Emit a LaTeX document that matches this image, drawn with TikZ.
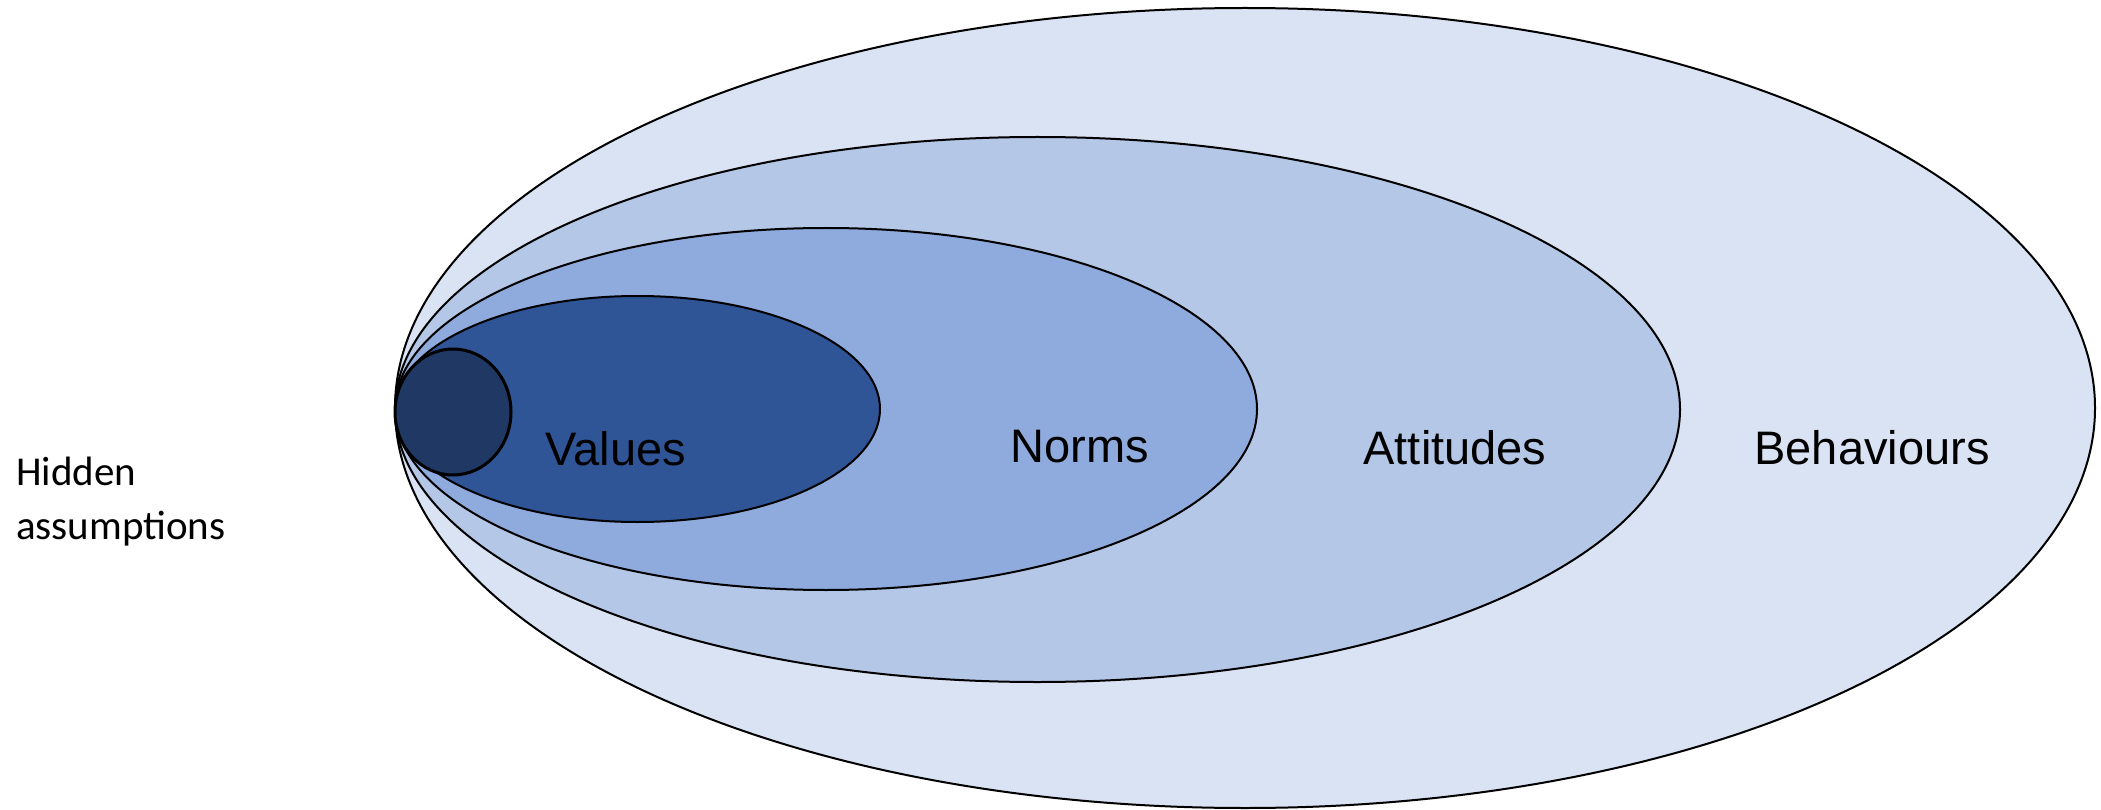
\documentclass[tikz,border=0pt]{standalone}
\usepackage{fontspec}
\setmainfont{Liberation Sans}
\newfontfamily\captionfont{Carlito}
\usetikzlibrary{shapes.geometric}
\definecolor{ringBehav}{HTML}{DAE3F3}
\definecolor{ringAtt}{HTML}{B4C7E7}
\definecolor{ringNorm}{HTML}{8FAADC}
\definecolor{ringVal}{HTML}{2F5597}
\definecolor{coreHidden}{HTML}{1F3864}
\begin{document}
\begin{tikzpicture}[x=1pt,y=-1pt,
  layer/.style={ellipse, draw=black, line width=2pt, inner sep=0pt, outer sep=0pt},
  lbl/.style={font=\fontsize{47}{56}\selectfont, inner sep=0pt, anchor=base}]
\useasboundingbox (0,0) rectangle (2101,810);
% nested layers, all touching at the left
\node[layer, fill=ringBehav, minimum width=1700pt, minimum height=800pt] (behaviours) at (1245,408) {};
\node[layer, fill=ringAtt, minimum width=1285pt, minimum height=545pt] (attitudes) at (1037.5,409.5) {};
\node[layer, fill=ringNorm, minimum width=862pt, minimum height=362pt] (norms) at (826,409) {};
\node[layer, fill=ringVal, minimum width=485pt, minimum height=226pt] (values) at (637.5,409) {};
\node[layer, fill=coreHidden, line width=3pt, minimum width=116pt, minimum height=126pt] (hidden) at (453,412) {};
% layer names
\node[lbl] (valuesLbl) at (616,465) {Values};
\node[lbl] (normsLbl) at (1080,462) {Norms};
\node[lbl] (attitudesLbl) at (1455,464) {Attitudes};
\node[lbl] (behavioursLbl) at (1872,464) {Behaviours};
\node[font=\captionfont\fontsize{41}{54}\selectfont, align=left, anchor=base west, inner sep=0pt] (hiddenLbl) at (16,539) {Hidden\\assumptions};
\end{tikzpicture}
\end{document}
